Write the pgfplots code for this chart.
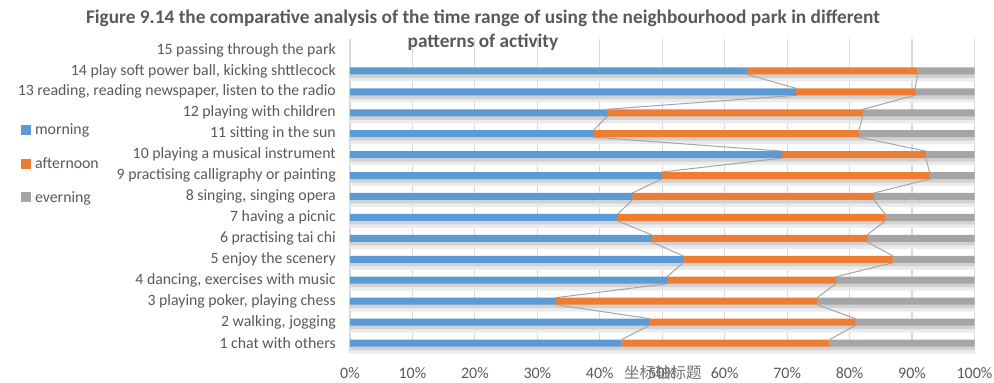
\documentclass[border=0pt]{standalone}
\usepackage{pgfplots}
\pgfplotsset{compat=1.18}
\usepackage{fontspec}
\setmainfont{Carlito}
\newfontfamily\cjk{Noto Sans CJK SC}
\definecolor{cblue}{HTML}{5B9BD5}
\definecolor{corange}{HTML}{ED7D31}
\definecolor{cgray}{HTML}{A5A5A5}
\definecolor{cgrid}{HTML}{D9D9D9}
\definecolor{ctext}{HTML}{595959}
\begin{document}
\begin{tikzpicture}
\useasboundingbox (0,0) rectangle (994pt,383pt);
\pgfplotsset{
  common/.style={
    at={(350pt,29.5pt)}, anchor=south west,
    width=624.5pt, height=314pt, scale only axis,
    xmin=0, xmax=100, ymin=0.5, ymax=15.5,
  }
}
% background axis: grid, shadows, series lines, labels
\begin{axis}[common,
  axis x line*=bottom,
  x axis line style={draw=none},
  axis y line*=left,
  y axis line style={cgrid, line width=1.3pt},
  xtick={0,10,...,100},
  xticklabels={0\%,10\%,20\%,30\%,40\%,50\%,60\%,70\%,80\%,90\%,100\%},
  xmajorgrids, grid style={cgrid, line width=1.2pt},
  ytick={1,...,15},
  yticklabels={1 chat with others,{2 walking, jogging},{3 playing poker, playing chess},{4 dancing, exercises with music},5 enjoy the scenery,6 practising tai chi,7 having a picnic,{8 singing, singing opera},9 practising calligraphy or painting,10 playing a musical instrument,11 sitting in the sun,12 playing with children,{13 reading, reading newspaper, listen to the radio},{14 play soft power ball, kicking shttlecock},15 passing through the park},
  major tick length=0pt,
  yticklabel style={font=\fontsize{15.8}{17}\selectfont, text=ctext, xshift=-10.7pt},
  xticklabel style={font=\fontsize{16}{18}\selectfont, text=ctext, anchor=center, yshift=-19.5pt},
  xlabel={\cjk 坐标轴标题},
  xlabel style={at={(axis description cs:0.501,0)}, anchor=center, yshift=-19.5pt, font=\fontsize{15.5}{17}\selectfont, text=ctext!85},
  title={Figure 9.14 the comparative analysis of the time range of using the neighbourhood park in different\\patterns of activity},
  title style={at={(axis description cs:0.213,1.011)}, anchor=center, align=center, font=\bfseries\fontsize{19.3}{24}\selectfont, text=ctext},
  clip=false,
]
% shadows
\addplot[xbar, bar width=10pt, bar shift=-5.5pt, fill=black!8, draw=none, forget plot] coordinates {
(100,1)(100,2)(100,3)(100,4)(100,5)(100,6)(100,7)(100,8)(100,9)(100,10)(100,11)(100,12)(100,13)(100,14)};
\addplot[xbar, bar width=5pt, bar shift=-4.5pt, fill=black!18, draw=none, forget plot] coordinates {
(100,1)(100,2)(100,3)(100,4)(100,5)(100,6)(100,7)(100,8)(100,9)(100,10)(100,11)(100,12)(100,13)(100,14)};
% series lines (cumulative morning)
\addplot[cgray, line width=1pt, forget plot] coordinates {
(43.5,1.167)(47.9,1.833)(47.9,2.167)(33.0,2.833)(33.0,3.167)(50.8,3.833)(50.8,4.167)(53.3,4.833)
(53.3,5.167)(48.3,5.833)(48.3,6.167)(42.9,6.833)(42.9,7.167)(45.2,7.833)(45.2,8.167)(49.9,8.833)
(49.9,9.167)(69.2,9.833)(69.2,10.167)(39.0,10.833)(39.0,11.167)(41.2,11.833)(41.2,12.167)(71.4,12.833)
(71.4,13.167)(63.6,13.833)};
% series lines (cumulative morning+afternoon)
\addplot[cgray, line width=1pt, forget plot] coordinates {
(76.8,1.167)(80.9,1.833)(80.9,2.167)(74.8,2.833)(74.8,3.167)(77.8,3.833)(77.8,4.167)(86.9,4.833)
(86.9,5.167)(82.8,5.833)(82.8,6.167)(85.7,6.833)(85.7,7.167)(83.9,7.833)(83.9,8.167)(92.8,8.833)
(92.8,9.167)(92.2,9.833)(92.2,10.167)(81.5,10.833)(81.5,11.167)(82.1,11.833)(82.1,12.167)(90.5,12.833)
(90.5,13.167)(90.9,13.833)};
\end{axis}
% bars
\begin{axis}[common,
  xbar stacked, bar width=7pt,
  axis lines=none,
  legend style={at={(-0.527,0.738)}, anchor=north west, draw=none, fill=none,
    font=\fontsize{15.8}{17}\selectfont, text=ctext, row sep=17.3pt, inner sep=0pt,
    /tikz/every odd column/.append style={column sep=2pt}},
  legend cell align=left,
  legend image code/.code={\fill[#1,draw=none] (0pt,-5pt) rectangle (10pt,5pt);},
]
\addplot[fill=cblue, draw=none] coordinates {
(43.5,1)(47.9,2)(33.0,3)(50.8,4)(53.3,5)(48.3,6)(42.9,7)(45.2,8)(49.9,9)(69.2,10)(39.0,11)(41.2,12)(71.4,13)(63.6,14)(0,15)};
\addplot[fill=corange, draw=none] coordinates {
(33.3,1)(33.0,2)(41.8,3)(27.0,4)(33.6,5)(34.5,6)(42.8,7)(38.7,8)(42.9,9)(23.0,10)(42.5,11)(40.9,12)(19.1,13)(27.3,14)(0,15)};
\addplot[fill=cgray, draw=none] coordinates {
(23.2,1)(19.1,2)(25.2,3)(22.2,4)(13.1,5)(17.2,6)(14.3,7)(16.1,8)(7.2,9)(7.8,10)(18.5,11)(17.9,12)(9.5,13)(9.1,14)(0,15)};
\legend{morning,afternoon,everning}
\end{axis}
\end{tikzpicture}
\end{document}
